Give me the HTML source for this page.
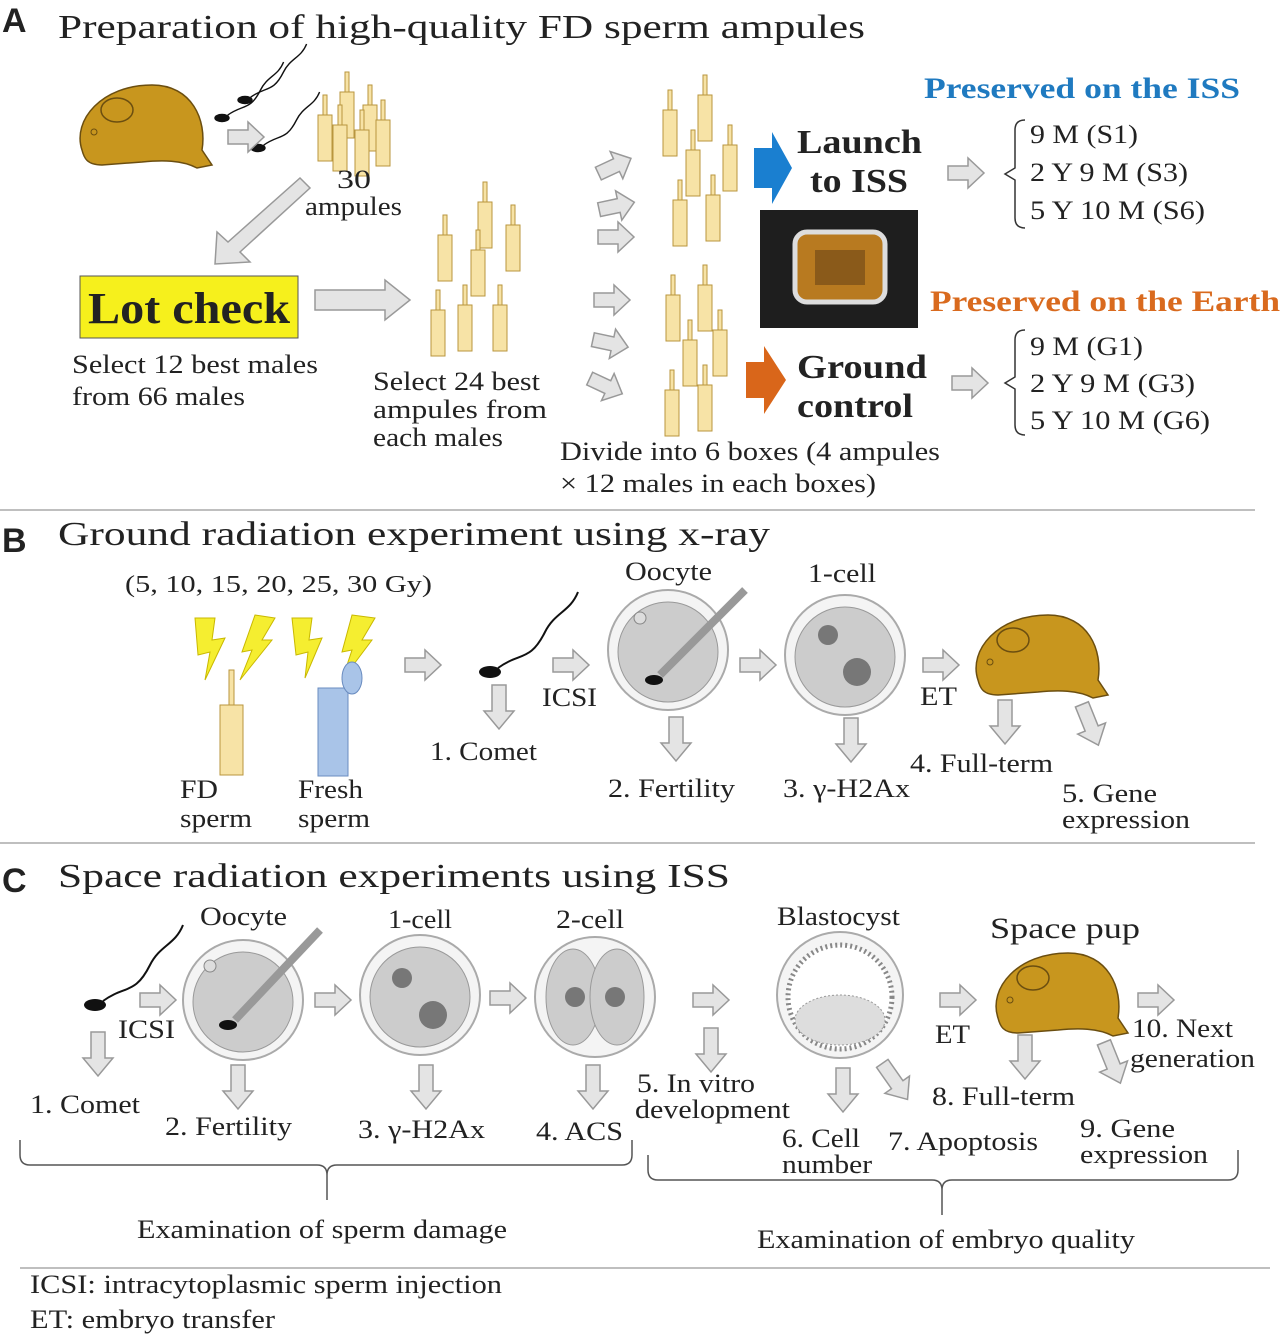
<!DOCTYPE html>
<html><head><meta charset="utf-8"><style>
html,body{margin:0;padding:0;background:#fff}
svg{display:block}
text{font-family:"Liberation Serif",serif;fill:#222}
</style></head><body>
<svg width="1282" height="1338" viewBox="0 0 1282 1338" xmlns="http://www.w3.org/2000/svg">
<defs>
<g id="ra"><path d="M0,8 H20 V0 L36,15 L20,30 V22 H0 Z" fill="#e4e4e4" stroke="#999" stroke-width="1.5"/></g>
<g id="da"><path d="M8,0 H22 V26 H30 L15,44 L0,26 H8 Z" fill="#e4e4e4" stroke="#999" stroke-width="1.5"/></g>
<g id="amp"><rect x="-2" y="0" width="4" height="22" fill="#f7e3a6" stroke="#b8963e"/><rect x="-7" y="20" width="14" height="46" fill="#f7e3a6" stroke="#b8963e"/></g>
<g id="mouse">
<path d="M10,70 C0,40 30,5 80,5 C120,5 135,40 130,70 L140,85 L125,88 C110,80 90,80 70,82 L30,85 C15,85 12,78 10,70 Z" fill="#c8961e" stroke="#6b4e10" stroke-width="1.5"/>
<ellipse cx="45" cy="30" rx="16" ry="12" fill="none" stroke="#6b4e10" stroke-width="1.5"/>
<circle cx="22" cy="52" r="3" fill="none" stroke="#6b4e10"/>
</g>
<g id="sperm"><ellipse cx="0" cy="0" rx="11" ry="6" fill="#111"/><path d="M8,-4 C30,-20 40,-10 55,-40 C65,-60 80,-60 88,-80" fill="none" stroke="#111" stroke-width="2"/></g>
</defs>
<g style="font-size:26px" lengthAdjust="spacingAndGlyphs">
<!-- Section A -->
<text x="2" y="32" font-weight="bold" font-size="34" style="font-family:'Liberation Sans',sans-serif">A</text>
<text x="58" y="38" font-size="34" textLength="807" lengthAdjust="spacingAndGlyphs">Preparation of high-quality FD sperm ampules</text>
<use href="#mouse" x="72" y="80"/>
<use href="#sperm" transform="translate(222,118) scale(0.7)"/>
<use href="#sperm" transform="translate(245,100) scale(0.7)"/>
<use href="#sperm" transform="translate(258,148) scale(0.7)"/>
<use href="#ra" x="228" y="122"/>
<use href="#amp" x="325" y="95"/><use href="#amp" x="347" y="72"/><use href="#amp" x="370" y="85"/><use href="#amp" x="340" y="105"/><use href="#amp" x="362" y="110"/><use href="#amp" x="383" y="100"/>
<text x="337" y="188" font-size="26" textLength="34" lengthAdjust="spacingAndGlyphs">30</text>
<text x="305" y="215" font-size="26" textLength="97" lengthAdjust="spacingAndGlyphs">ampules</text>
<path d="M300,178 L310,188 L240,252 L250,262 L215,264 L217,232 L228,242 Z" fill="#e4e4e4" stroke="#999" stroke-width="1.5"/>
<rect x="80" y="276" width="218" height="62" fill="#f6f01c" stroke="#555"/>
<text x="88" y="323" font-size="44" font-weight="bold" textLength="202" lengthAdjust="spacingAndGlyphs">Lot check</text>
<text x="72" y="373" font-size="26" textLength="246" lengthAdjust="spacingAndGlyphs">Select 12 best males</text>
<text x="72" y="405" font-size="26" textLength="173" lengthAdjust="spacingAndGlyphs">from 66 males</text>
<path d="M315,290 H385 V280 L410,300 L385,320 V310 H315 Z" fill="#e4e4e4" stroke="#999" stroke-width="1.5"/>
<use href="#amp" x="445" y="215"/><use href="#amp" x="485" y="182"/><use href="#amp" x="513" y="205"/><use href="#amp" x="478" y="230"/><use href="#amp" x="438" y="290"/><use href="#amp" x="465" y="285"/><use href="#amp" x="500" y="285"/>
<text x="373" y="390" font-size="26" textLength="167" lengthAdjust="spacingAndGlyphs">Select 24 best</text>
<text x="373" y="418" font-size="26" textLength="174" lengthAdjust="spacingAndGlyphs">ampules  from</text>
<text x="373" y="446" font-size="26" textLength="130" lengthAdjust="spacingAndGlyphs">each males</text>
<use href="#ra" transform="translate(592,160) rotate(-25)"/>
<use href="#ra" transform="translate(596,195) rotate(-12)"/>
<use href="#ra" transform="translate(598,222)"/>
<use href="#ra" transform="translate(594,285)"/>
<use href="#ra" transform="translate(596,325) rotate(12)"/>
<use href="#ra" transform="translate(596,365) rotate(25)"/>
<use href="#amp" x="670" y="90"/><use href="#amp" x="705" y="75"/><use href="#amp" x="693" y="130"/><use href="#amp" x="730" y="125"/><use href="#amp" x="680" y="180"/><use href="#amp" x="713" y="175"/>
<use href="#amp" x="673" y="275"/><use href="#amp" x="705" y="265"/><use href="#amp" x="690" y="320"/><use href="#amp" x="720" y="310"/><use href="#amp" x="672" y="370"/><use href="#amp" x="705" y="365"/>
<path d="M754,148 H772 V132 L792,168 L772,204 V188 H754 Z" fill="#1a7fd0"/>
<text x="797" y="153" font-size="34" font-weight="bold" textLength="125" lengthAdjust="spacingAndGlyphs">Launch</text>
<text x="810" y="192" font-size="34" font-weight="bold" textLength="98" lengthAdjust="spacingAndGlyphs">to ISS</text>
<rect x="760" y="210" width="158" height="118" fill="#1e1e1e"/>
<rect x="795" y="232" width="90" height="70" rx="12" fill="#b87a20" stroke="#ddd" stroke-width="5"/>
<rect x="815" y="250" width="50" height="35" fill="#8a5a1a"/>
<path d="M746,362 H764 V346 L786,380 L764,414 V398 H746 Z" fill="#d9661a"/>
<text x="797" y="378" font-size="34" font-weight="bold" textLength="130" lengthAdjust="spacingAndGlyphs">Ground</text>
<text x="797" y="417" font-size="34" font-weight="bold" textLength="116" lengthAdjust="spacingAndGlyphs">control</text>
<text x="924" y="98" font-size="30" font-weight="bold" style="fill:#1f7ac0" textLength="316" lengthAdjust="spacingAndGlyphs">Preserved on the ISS</text>
<use href="#ra" x="948" y="158"/>
<path d="M1025,120 Q1015,120 1015,130 V168 L1005,174 L1015,180 V218 Q1015,228 1025,228" fill="none" stroke="#333" stroke-width="1.5"/>
<text x="1030" y="143" font-size="26" textLength="108" lengthAdjust="spacingAndGlyphs">9 M (S1)</text>
<text x="1030" y="181" font-size="26" textLength="158" lengthAdjust="spacingAndGlyphs">2 Y 9 M (S3)</text>
<text x="1030" y="219" font-size="26" textLength="175" lengthAdjust="spacingAndGlyphs">5 Y 10 M (S6)</text>
<text x="930" y="311" font-size="30" font-weight="bold" style="fill:#d96a1e" textLength="350" lengthAdjust="spacingAndGlyphs">Preserved on the Earth</text>
<use href="#ra" x="952" y="368"/>
<path d="M1025,330 Q1015,330 1015,340 V377 L1005,383 L1015,389 V425 Q1015,435 1025,435" fill="none" stroke="#333" stroke-width="1.5"/>
<text x="1030" y="355" font-size="26" textLength="113" lengthAdjust="spacingAndGlyphs">9 M (G1)</text>
<text x="1030" y="392" font-size="26" textLength="165" lengthAdjust="spacingAndGlyphs">2 Y 9 M (G3)</text>
<text x="1030" y="429" font-size="26" textLength="180" lengthAdjust="spacingAndGlyphs">5 Y 10 M (G6)</text>
<text x="560" y="460" font-size="26" textLength="380" lengthAdjust="spacingAndGlyphs">Divide into 6 boxes (4 ampules</text>
<text x="560" y="492" font-size="26" textLength="316" lengthAdjust="spacingAndGlyphs">× 12 males in each boxes)</text>
<line x1="0" y1="510" x2="1255" y2="510" stroke="#aaa" stroke-width="1.5"/>

<!-- Section B -->
<text x="2" y="552" font-weight="bold" font-size="34" style="font-family:'Liberation Sans',sans-serif">B</text>
<text x="58" y="545" font-size="34" textLength="712" lengthAdjust="spacingAndGlyphs">Ground radiation experiment using x-ray</text>
<text x="125" y="592" font-size="24" textLength="307" lengthAdjust="spacingAndGlyphs">(5, 10, 15, 20, 25, 30 Gy)</text>
<g fill="#f5ee30" stroke="#c9b800">
<path d="M195,618 L215,618 L212,640 L225,638 L205,680 L210,652 L198,655 Z"/>
<path d="M255,615 L275,618 L262,640 L272,640 L240,680 L252,650 L242,652 Z"/>
<path d="M292,618 L312,618 L309,640 L322,638 L305,678 L308,652 L296,655 Z"/>
<path d="M352,615 L375,618 L362,640 L372,640 L342,680 L352,650 L342,652 Z"/>
</g>
<rect x="229" y="670" width="5" height="38" fill="#f7e3a6" stroke="#b8963e"/>
<rect x="220" y="705" width="23" height="70" fill="#f7e3a6" stroke="#b8963e"/>
<rect x="318" y="688" width="30" height="88" fill="#a9c4e8" stroke="#6a8cc0"/>
<ellipse cx="352" cy="678" rx="10" ry="16" fill="#a9c4e8" stroke="#6a8cc0"/>
<text x="180" y="798" font-size="26" textLength="38" lengthAdjust="spacingAndGlyphs">FD</text>
<text x="180" y="827" font-size="26" textLength="72" lengthAdjust="spacingAndGlyphs">sperm</text>
<text x="298" y="798" font-size="26" textLength="65" lengthAdjust="spacingAndGlyphs">Fresh</text>
<text x="298" y="827" font-size="26" textLength="72" lengthAdjust="spacingAndGlyphs">sperm</text>
<use href="#ra" x="405" y="650"/>
<use href="#sperm" transform="translate(490,672)"/>
<use href="#da" x="484" y="685"/>
<text x="430" y="760" font-size="26" textLength="107" lengthAdjust="spacingAndGlyphs">1. Comet</text>
<use href="#ra" x="553" y="650"/>
<text x="542" y="706" font-size="26" textLength="55" lengthAdjust="spacingAndGlyphs">ICSI</text>
<circle cx="668" cy="650" r="60" fill="#f4f4f4" stroke="#aaa" stroke-width="2"/>
<circle cx="668" cy="652" r="50" fill="#ccc" stroke="#999"/>
<circle cx="640" cy="618" r="6" fill="#ddd" stroke="#888"/>
<line x1="660" y1="675" x2="745" y2="590" stroke="#999" stroke-width="8"/>
<ellipse cx="654" cy="680" rx="9" ry="5" fill="#111"/>
<text x="625" y="580" font-size="26" textLength="87" lengthAdjust="spacingAndGlyphs">Oocyte</text>
<use href="#da" x="661" y="717"/>
<text x="608" y="797" font-size="26" textLength="127" lengthAdjust="spacingAndGlyphs">2. Fertility</text>
<use href="#ra" x="740" y="650"/>
<circle cx="845" cy="655" r="60" fill="#f4f4f4" stroke="#aaa" stroke-width="2"/>
<circle cx="845" cy="657" r="50" fill="#ccc" stroke="#999"/>
<circle cx="828" cy="635" r="10" fill="#777"/><circle cx="857" cy="672" r="14" fill="#777"/>
<text x="808" y="582" font-size="26" textLength="68" lengthAdjust="spacingAndGlyphs">1-cell</text>
<use href="#da" x="836" y="718"/>
<text x="783" y="797" font-size="26" textLength="127" lengthAdjust="spacingAndGlyphs">3. γ-H2Ax</text>
<use href="#ra" x="923" y="650"/>
<text x="920" y="705" font-size="26" textLength="37" lengthAdjust="spacingAndGlyphs">ET</text>
<use href="#mouse" x="968" y="610"/>
<use href="#da" x="990" y="700"/>
<text x="910" y="772" font-size="26" textLength="143" lengthAdjust="spacingAndGlyphs">4. Full-term</text>
<use href="#da" transform="translate(1068,710) rotate(-22)"/>
<text x="1062" y="802" font-size="26" textLength="95" lengthAdjust="spacingAndGlyphs">5. Gene</text>
<text x="1062" y="828" font-size="26" textLength="128" lengthAdjust="spacingAndGlyphs">expression</text>
<line x1="0" y1="843" x2="1255" y2="843" stroke="#aaa" stroke-width="1.5"/>

<!-- Section C -->
<text x="2" y="892" font-weight="bold" font-size="34" style="font-family:'Liberation Sans',sans-serif">C</text>
<text x="58" y="887" font-size="34" textLength="672" lengthAdjust="spacingAndGlyphs">Space radiation experiments using ISS</text>
<use href="#sperm" transform="translate(95,1005)"/>
<use href="#ra" x="140" y="985"/>
<text x="118" y="1038" font-size="26" textLength="57" lengthAdjust="spacingAndGlyphs">ICSI</text>
<use href="#da" x="83" y="1032"/>
<text x="30" y="1113" font-size="26" textLength="110" lengthAdjust="spacingAndGlyphs">1. Comet</text>
<circle cx="243" cy="1000" r="60" fill="#f4f4f4" stroke="#aaa" stroke-width="2"/>
<circle cx="243" cy="1002" r="50" fill="#ccc" stroke="#999"/>
<circle cx="210" cy="966" r="6" fill="#ddd" stroke="#888"/>
<line x1="235" y1="1020" x2="320" y2="930" stroke="#999" stroke-width="8"/>
<ellipse cx="228" cy="1025" rx="9" ry="5" fill="#111"/>
<text x="200" y="925" font-size="26" textLength="87" lengthAdjust="spacingAndGlyphs">Oocyte</text>
<use href="#da" x="223" y="1065"/>
<text x="165" y="1135" font-size="26" textLength="127" lengthAdjust="spacingAndGlyphs">2. Fertility</text>
<use href="#ra" x="315" y="985"/>
<circle cx="420" cy="995" r="60" fill="#f4f4f4" stroke="#aaa" stroke-width="2"/>
<circle cx="420" cy="997" r="50" fill="#ccc" stroke="#999"/>
<circle cx="402" cy="978" r="10" fill="#777"/><circle cx="433" cy="1015" r="14" fill="#777"/>
<text x="388" y="928" font-size="26" textLength="64" lengthAdjust="spacingAndGlyphs">1-cell</text>
<use href="#da" x="411" y="1065"/>
<text x="358" y="1138" font-size="26" textLength="127" lengthAdjust="spacingAndGlyphs">3. γ-H2Ax</text>
<use href="#ra" x="490" y="983"/>
<circle cx="595" cy="997" r="60" fill="#f4f4f4" stroke="#aaa" stroke-width="2"/>
<ellipse cx="573" cy="997" rx="27" ry="48" fill="#ccc" stroke="#999"/>
<ellipse cx="617" cy="997" rx="27" ry="48" fill="#ccc" stroke="#999"/>
<circle cx="575" cy="997" r="10" fill="#777"/><circle cx="615" cy="997" r="10" fill="#777"/>
<text x="556" y="928" font-size="26" textLength="68" lengthAdjust="spacingAndGlyphs">2-cell</text>
<use href="#da" x="578" y="1065"/>
<text x="536" y="1140" font-size="26" textLength="87" lengthAdjust="spacingAndGlyphs">4. ACS</text>
<use href="#ra" x="693" y="985"/>
<use href="#da" x="696" y="1028"/>
<text x="637" y="1092" font-size="26" textLength="118" lengthAdjust="spacingAndGlyphs">5. In vitro</text>
<text x="635" y="1118" font-size="26" textLength="155" lengthAdjust="spacingAndGlyphs">development</text>
<circle cx="840" cy="995" r="63" fill="#f4f4f4" stroke="#aaa" stroke-width="2"/>
<circle cx="840" cy="997" r="52" fill="#fff" stroke="#888" stroke-width="5" stroke-dasharray="2 3"/>
<ellipse cx="840" cy="1020" rx="45" ry="25" fill="#ddd" stroke="#999" stroke-dasharray="2 2"/>
<text x="777" y="925" font-size="26" textLength="123" lengthAdjust="spacingAndGlyphs">Blastocyst</text>
<use href="#da" x="828" y="1068"/>
<text x="782" y="1147" font-size="26" textLength="78" lengthAdjust="spacingAndGlyphs">6. Cell</text>
<text x="782" y="1173" font-size="26" textLength="90" lengthAdjust="spacingAndGlyphs">number</text>
<use href="#da" transform="translate(870,1072) rotate(-35)"/>
<text x="888" y="1150" font-size="26" textLength="150" lengthAdjust="spacingAndGlyphs">7. Apoptosis</text>
<use href="#ra" x="940" y="985"/>
<text x="935" y="1043" font-size="26" textLength="35" lengthAdjust="spacingAndGlyphs">ET</text>
<text x="990" y="938" font-size="30" textLength="150" lengthAdjust="spacingAndGlyphs">Space pup</text>
<use href="#mouse" x="988" y="948"/>
<use href="#da" x="1010" y="1035"/>
<text x="932" y="1105" font-size="26" textLength="143" lengthAdjust="spacingAndGlyphs">8. Full-term</text>
<use href="#da" transform="translate(1090,1048) rotate(-22)"/>
<text x="1080" y="1137" font-size="26" textLength="95" lengthAdjust="spacingAndGlyphs">9. Gene</text>
<text x="1080" y="1163" font-size="26" textLength="128" lengthAdjust="spacingAndGlyphs">expression</text>
<use href="#ra" x="1138" y="985"/>
<text x="1132" y="1037" font-size="26" textLength="101" lengthAdjust="spacingAndGlyphs">10. Next</text>
<text x="1130" y="1067" font-size="26" textLength="125" lengthAdjust="spacingAndGlyphs">generation</text>
<path d="M20,1140 V1155 Q20,1165 30,1165 H317 Q327,1165 327,1175 V1200 M327,1175 Q327,1165 337,1165 H622 Q632,1165 632,1155 V1140" fill="none" stroke="#555" stroke-width="1.5"/>
<text x="137" y="1238" font-size="26" textLength="370" lengthAdjust="spacingAndGlyphs">Examination of sperm damage</text>
<path d="M648,1155 V1170 Q648,1180 658,1180 H932 Q942,1180 942,1190 V1215 M942,1190 Q942,1180 952,1180 H1228 Q1238,1180 1238,1170 V1150" fill="none" stroke="#555" stroke-width="1.5"/>
<text x="757" y="1248" font-size="26" textLength="378" lengthAdjust="spacingAndGlyphs">Examination of embryo quality</text>
<line x1="20" y1="1268" x2="1270" y2="1268" stroke="#aaa" stroke-width="1.5"/>
<text x="30" y="1293" font-size="26" textLength="472" lengthAdjust="spacingAndGlyphs">ICSI: intracytoplasmic sperm injection</text>
<text x="30" y="1328" font-size="26" textLength="245" lengthAdjust="spacingAndGlyphs">ET: embryo transfer</text>
</g>
</svg>
</body></html>
